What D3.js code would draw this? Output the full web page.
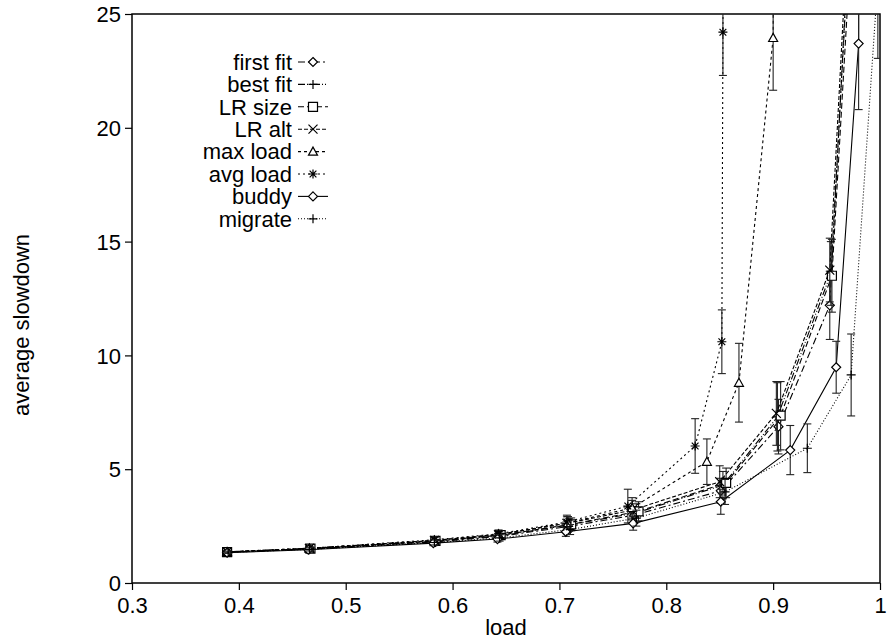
<!DOCTYPE html>
<html>
<head>
<meta charset="utf-8">
<script src="https://cdn.jsdelivr.net/npm/d3@7"></script>
<style>
  body { margin: 0; background: #fff; }
  text { font-family: "Liberation Sans", Arial, sans-serif; fill: #000; }
</style>
</head>
<body>
<svg id="chart" width="887" height="641"></svg>
<script>
// series names, in legend order
var names = ["first fit", "best fit", "LR size", "LR alt", "max load", "avg load", "buddy", "migrate"];

// measured load (x), average slowdown (y) and half error bar, per series
var ffLoad = [0.389, 0.466, 0.584, 0.643, 0.708, 0.770, 0.851, 0.905, 0.953, 0.977];
var ffSlow = [1.35, 1.49, 1.81, 2.04, 2.48, 2.98, 4.05, 6.87, 12.2, 34];
var ffErr  = [0.06, 0.08, 0.12, 0.15, 0.25, 0.35, 0.55, 1.2, 1.5, 2.5];

var bfLoad = [0.389, 0.466, 0.583, 0.644, 0.709, 0.772, 0.853, 0.904, 0.954, 0.978];
var bfSlow = [1.36, 1.50, 1.83, 2.07, 2.55, 3.08, 4.30, 7.30, 13.6, 34];
var bfErr  = [0.06, 0.08, 0.13, 0.16, 0.27, 0.40, 0.60, 1.5, 1.4, 2.5];

var lrsLoad = [0.389, 0.467, 0.584, 0.645, 0.711, 0.774, 0.856, 0.907, 0.955, 0.979];
var lrsSlow = [1.36, 1.51, 1.85, 2.10, 2.58, 3.15, 4.40, 7.35, 13.5, 33];
var lrsErr  = [0.06, 0.08, 0.13, 0.16, 0.28, 0.42, 0.65, 1.5, 1.6, 2.5];

var lraLoad = [0.389, 0.466, 0.583, 0.643, 0.707, 0.768, 0.850, 0.903, 0.953, 0.977];
var lraSlow = [1.37, 1.52, 1.87, 2.12, 2.62, 3.20, 4.45, 7.45, 13.75, 35];
var lraErr  = [0.06, 0.08, 0.13, 0.17, 0.29, 0.43, 0.70, 1.4, 1.4, 2.5];

var mlLoad = [0.389, 0.466, 0.583, 0.643, 0.708, 0.768, 0.838, 0.868, 0.900, 0.903];
var mlSlow = [1.36, 1.52, 1.87, 2.14, 2.64, 3.30, 5.33, 8.80, 23.95, 60];
var mlErr  = [0.06, 0.08, 0.13, 0.16, 0.28, 0.45, 1.0, 1.73, 2.3, 4];

var alLoad = [0.389, 0.466, 0.583, 0.643, 0.707, 0.764, 0.827, 0.852, 0.853, 0.856];
var alSlow = [1.37, 1.53, 1.90, 2.16, 2.68, 3.38, 6.02, 10.6, 24.2, 60];
var alErr  = [0.06, 0.08, 0.13, 0.17, 0.30, 0.74, 1.2, 1.4, 1.9, 4];

var buLoad = [0.389, 0.465, 0.582, 0.642, 0.706, 0.769, 0.851, 0.916, 0.959, 0.980, 0.981];
var buSlow = [1.33, 1.46, 1.75, 1.93, 2.25, 2.62, 3.57, 5.84, 9.48, 23.7, 60];
var buErr  = [0.05, 0.07, 0.11, 0.13, 0.20, 0.30, 0.55, 1.08, 1.14, 2.9, 4];

var miLoad = [0.390, 0.466, 0.583, 0.644, 0.710, 0.772, 0.855, 0.932, 0.973, 0.998];
var miSlow = [1.35, 1.48, 1.78, 1.98, 2.35, 2.85, 4.00, 5.92, 9.14, 26.5];
var miErr  = [0.05, 0.07, 0.11, 0.14, 0.22, 0.35, 0.55, 1.07, 1.8, 3.45];

var xTicks = [0.3, 0.4, 0.5, 0.6, 0.7, 0.8, 0.9, 1];
var yTicks = [0, 5, 10, 15, 20, 25];

var loads = [ffLoad, bfLoad, lrsLoad, lraLoad, mlLoad, alLoad, buLoad, miLoad];
var slows = [ffSlow, bfSlow, lrsSlow, lraSlow, mlSlow, alSlow, buSlow, miSlow];
var errs  = [ffErr, bfErr, lrsErr, lraErr, mlErr, alErr, buErr, miErr];

// styling per series
var dashes  = ["7,3,2,3", "7,2,1,2,1,2", "6,3", "4,2", "3,3", "2,3", null, "1,2"];
var markers = ["diamond", "plus", "square", "cross", "triangle", "star", "diamond", "plus"];

var series = names.map(function(n, i) {
  return {
    name: n, dash: dashes[i], marker: markers[i],
    points: loads[i].map(function(x, j) { return {x: x, y: slows[i][j], e: errs[i][j]}; })
  };
});

var svg = d3.select("#chart");
var pLeft = 132, pRight = 880, pTop = 14, pBottom = 583;
var fontSize = "22px";
var msize = 9, cap = 4;

var x = d3.scaleLinear().domain([0.3, 1]).range([pLeft, pRight]);
var y = d3.scaleLinear().domain([0, 25]).range([pBottom, pTop]);

svg.append("defs").append("clipPath").attr("id", "plotclip")
  .append("rect").attr("x", pLeft).attr("y", pTop)
  .attr("width", pRight - pLeft).attr("height", pBottom - pTop);

function markerPath(type, s) {
  var h = s / 2;
  if (type == "diamond") return "M0," + (-h) + "L" + h + ",0L0," + h + "L" + (-h) + ",0Z";
  if (type == "plus") return "M" + (-h) + ",0H" + h + "M0," + (-h) + "V" + h;
  if (type == "square") return "M" + (-h) + "," + (-h) + "H" + h + "V" + h + "H" + (-h) + "Z";
  if (type == "cross") return "M" + (-h) + "," + (-h) + "L" + h + "," + h + "M" + (-h) + "," + h + "L" + h + "," + (-h);
  if (type == "triangle") return "M0," + (-h) + "L" + h + "," + (h * 0.8) + "L" + (-h) + "," + (h * 0.8) + "Z";
  if (type == "star") return "M" + (-h) + ",0H" + h + "M0," + (-h) + "V" + h +
    "M" + (-h * 0.75) + "," + (-h * 0.75) + "L" + (h * 0.75) + "," + (h * 0.75) +
    "M" + (-h * 0.75) + "," + (h * 0.75) + "L" + (h * 0.75) + "," + (-h * 0.75);
  return "";
}
function hollow(m) { return m == "plus" || m == "cross" || m == "star" ? 0 : 1; }

// axes
var xAxis = d3.axisBottom(x).tickValues(xTicks).tickSize(7).tickFormat(d3.format("~g"));
var yAxis = d3.axisLeft(y).tickValues(yTicks).tickSize(7).tickFormat(d3.format("d"));

var gx = svg.append("g").attr("transform", "translate(0," + pBottom + ")").call(xAxis);
var gy = svg.append("g").attr("transform", "translate(" + pLeft + ",0)").call(yAxis);
[gx, gy].forEach(function(g) {
  g.select(".domain").remove();
  g.selectAll(".tick line").attr("stroke", "#000").attr("stroke-width", 1.2);
  g.selectAll(".tick text").style("font-size", fontSize)
    .style("font-family", "'Liberation Sans', Arial, sans-serif");
});
gx.selectAll(".tick text").attr("y", 10).attr("dy", "0.9em");
gy.selectAll(".tick text").attr("x", -11).attr("dy", "0.35em");

// frame
svg.append("rect").attr("x", pLeft).attr("y", pTop)
  .attr("width", pRight - pLeft).attr("height", pBottom - pTop)
  .attr("fill", "none").attr("stroke", "#000").attr("stroke-width", 1.5);

svg.append("text").attr("x", (pLeft + pRight) / 2).attr("y", 635)
  .attr("text-anchor", "middle").style("font-size", fontSize).text("load");
svg.append("text").attr("transform", "translate(29,325) rotate(-90)")
  .attr("text-anchor", "middle").style("font-size", fontSize).text("average slowdown");

// data
var plot = svg.append("g").attr("clip-path", "url(#plotclip)");
var line = d3.line().x(function(d) { return x(d.x); }).y(function(d) { return y(d.y); });

series.forEach(function(s) {
  var g = plot.append("g");
  g.append("path").attr("d", line(s.points))
    .attr("fill", "none").attr("stroke", "#000").attr("stroke-width", 1.1)
    .attr("stroke-dasharray", s.dash);

  var eb = g.selectAll(".eb").data(s.points).enter().append("g")
    .attr("stroke", "#222").attr("stroke-width", 1.1).attr("fill", "none");
  eb.append("line")
    .attr("x1", function(d) { return x(d.x); }).attr("x2", function(d) { return x(d.x); })
    .attr("y1", function(d) { return y(d.y - d.e); }).attr("y2", function(d) { return y(d.y + d.e); });
  eb.append("line")
    .attr("x1", function(d) { return x(d.x) - cap; }).attr("x2", function(d) { return x(d.x) + cap; })
    .attr("y1", function(d) { return y(d.y - d.e); }).attr("y2", function(d) { return y(d.y - d.e); });
  eb.append("line")
    .attr("x1", function(d) { return x(d.x) - cap; }).attr("x2", function(d) { return x(d.x) + cap; })
    .attr("y1", function(d) { return y(d.y + d.e); }).attr("y2", function(d) { return y(d.y + d.e); });

  g.selectAll(".pt").data(s.points).enter().append("path")
    .attr("transform", function(d) { return "translate(" + x(d.x) + "," + y(d.y) + ")"; })
    .attr("d", markerPath(s.marker, msize))
    .attr("fill", "#fff").attr("fill-opacity", hollow(s.marker))
    .attr("stroke", "#000").attr("stroke-width", 1.2);
});

// legend
var legend = svg.append("g");
series.forEach(function(s, i) {
  var ly = 62 + i * 22.4;
  legend.append("text").attr("x", 292).attr("y", ly).attr("dy", "0.35em")
    .attr("text-anchor", "end").style("font-size", fontSize).text(s.name);
  legend.append("line").attr("x1", 298).attr("x2", 328).attr("y1", ly).attr("y2", ly)
    .attr("stroke", "#000").attr("stroke-width", 1.1).attr("stroke-dasharray", s.dash);
  legend.append("path").attr("transform", "translate(313," + ly + ")")
    .attr("d", markerPath(s.marker, msize))
    .attr("fill", "#fff").attr("fill-opacity", hollow(s.marker))
    .attr("stroke", "#000").attr("stroke-width", 1.2);
});
</script>
</body>
</html>
